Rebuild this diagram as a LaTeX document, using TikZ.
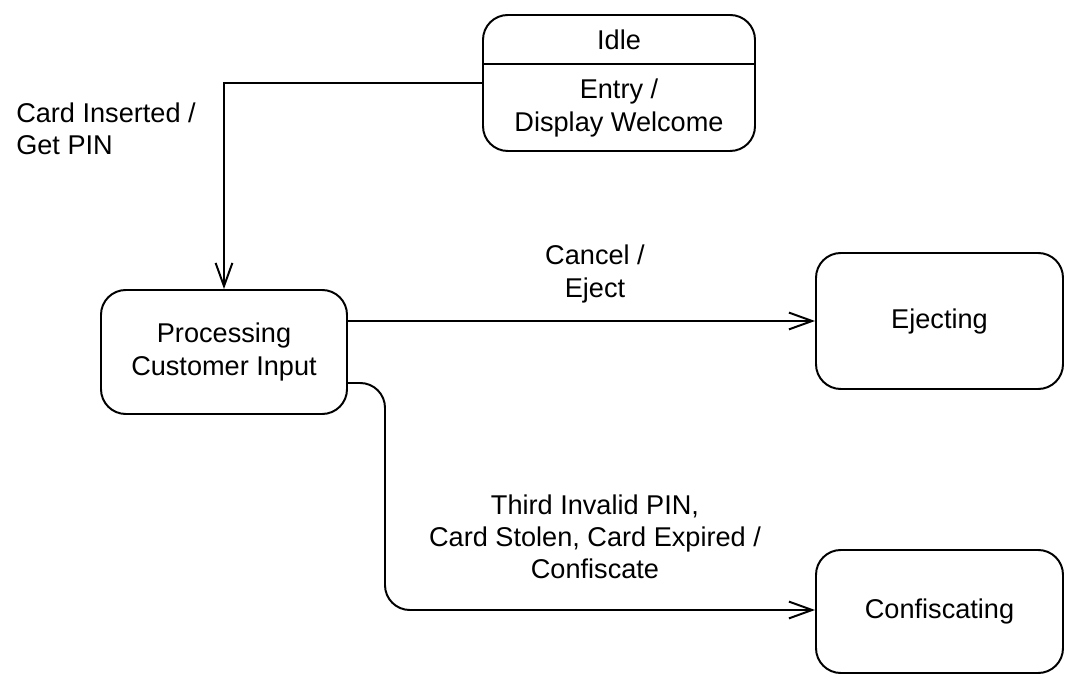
\documentclass[tikz,border=0pt]{standalone}
\usepackage{fontspec}
\setmainfont{Liberation Sans}
\usetikzlibrary{arrows.meta}

\tikzset{
    label text/.style={font=\fontsize{19.3}{22.8}\selectfont, inner sep=0pt},
    state/.style={draw, line width=1.4pt, rounded corners=0.62cm, align=center,
        label text},
    trans/.style={line width=1.4pt,
        -{Straight Barb[length=0.58cm, width=0.42cm, line width=1.4pt]}},
}

\begin{document}
\begin{tikzpicture}

\useasboundingbox (0, 0) rectangle (26.875, 17.15);

% states
\node[state, minimum width=6.8cm, minimum height=3.4cm] (idle) at (15.475, 15.075) {};
\node[label text] (idletitle) at (15.475, 16.15) {Idle};
\node[label text, align=center] (idleentry) at (15.475, 14.45) {Entry /\\Display Welcome};
\coordinate (divider) at (15.475, 15.55);
\draw[line width=1.4pt] (idle.west |- divider) -- (idle.east |- divider);

\node[state, minimum width=6.15cm, minimum height=3.1cm] (proc) at (5.6, 8.35)
    {Processing\\Customer Input};
\node[state, minimum width=6.175cm, minimum height=3.4cm] (eject) at (23.4875, 9.125)
    {Ejecting};
\node[state, minimum width=6.175cm, minimum height=3.075cm] (conf) at (23.4875, 1.8625)
    {Confiscating};

% transitions
\draw[trans] (idle.west) -| (proc.north);
\draw[trans] (proc.east |- eject.west) -- (eject.west);

\coordinate (bend) at (9.625, 1.9);
\draw[trans, rounded corners=0.62cm] ([yshift=-0.775cm]proc.east) -| (bend) -- (conf.west |- bend);

% labels
\node[label text, anchor=west, align=left] (cardlbl) at (0.4, 13.925)
    {Card Inserted /\\Get PIN};
\node[label text, align=center] (cancellbl) at (14.875, 10.3)
    {Cancel /\\Eject};
\node[label text, align=center] (confiscatelbl) at (14.875, 3.725)
    {Third Invalid PIN,\\Card Stolen, Card Expired /\\Confiscate};

\end{tikzpicture}
\end{document}
